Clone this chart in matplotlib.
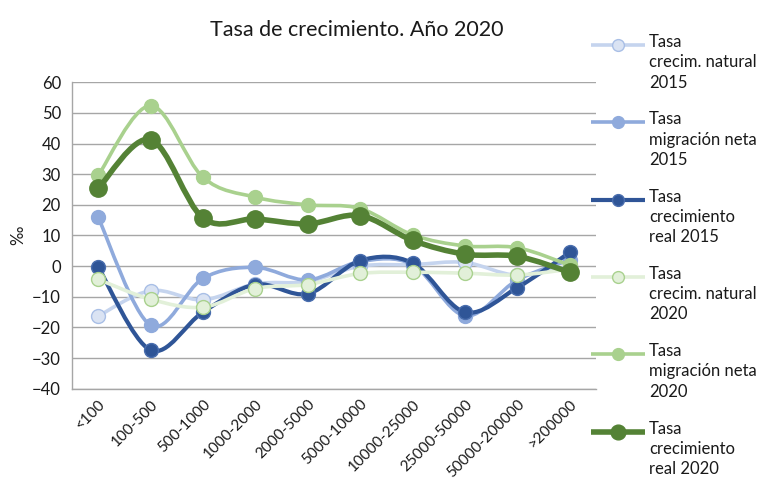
import matplotlib
matplotlib.use("Agg")
import matplotlib.pyplot as plt
import numpy as np
from matplotlib.path import Path
from matplotlib.patches import PathPatch
from matplotlib.lines import Line2D

plt.rcParams['font.family'] = ['Lato', 'DejaVu Sans']

categories = ["<100", "100-500", "500-1000", "1000-2000", "2000-5000", "5000-10000",
              "10000-25000", "25000-50000", "50000-200000", ">200000"]

natural_2015 = [-16.3, -8.0, -11.0, -5.8, -5.0, 0.0, 0.5, 1.2, -3.0, 0.0]
migracion_2015 = [15.9, -19.3, -4.0, -0.4, -4.5, 1.5, 0.5, -16.2, -4.5, 2.0]
real_2015 = [-0.3, -27.4, -15.0, -6.0, -9.0, 1.8, 1.0, -15.0, -7.0, 4.5]
natural_2020 = [-4.3, -10.8, -13.4, -7.3, -6.0, -2.4, -2.0, -2.3, -2.9, -1.0]
migracion_2020 = [29.6, 52.4, 29.0, 22.5, 20.0, 18.8, 10.2, 6.6, 6.0, 0.3]
real_2020 = [25.4, 41.3, 15.7, 15.4, 13.8, 16.5, 8.4, 3.9, 3.2, -2.0]

labels = ["Tasa\ncrecim. natural\n2015", "Tasa\nmigración neta\n2015",
          "Tasa\ncrecimiento\nreal 2015", "Tasa\ncrecim. natural\n2020",
          "Tasa\nmigración neta\n2020", "Tasa\ncrecimiento\nreal 2020"]

series = [natural_2015, migracion_2015, real_2015, natural_2020, migracion_2020, real_2020]
styles = [
    dict(lc="#C5D4EE", mfc="#DAE3F3", mec="#A9BFE6", lw=2.6, ms=10),
    dict(lc="#8FAADC", mfc="#8FAADC", mec="#8FAADC", lw=2.6, ms=10),
    dict(lc="#2F5597", mfc="#2F5597", mec="#4A6EAE", lw=3.0, ms=10),
    dict(lc="#E2F0D9", mfc="#E2F0D9", mec="#A9D18E", lw=2.6, ms=10),
    dict(lc="#A9D18E", mfc="#A9D18E", mec="#A9D18E", lw=2.6, ms=10),
    dict(lc="#548235", mfc="#548235", mec="#548235", lw=4.0, ms=12.5),
]

W, H = 764, 486
fig = plt.figure(figsize=(W / 100, H / 100), dpi=100)
ax = fig.add_axes([72 / W, 1 - 388.7 / H, (596 - 72) / W, (388.7 - 82.3) / H])

x = np.arange(len(categories))


def smooth_path(xs, ys):
    pts = np.column_stack([xs, ys]).astype(float)
    n = len(pts)
    verts = [pts[0]]
    codes = [Path.MOVETO]
    for i in range(n - 1):
        p0 = pts[i - 1] if i > 0 else pts[i]
        p1 = pts[i]
        p2 = pts[i + 1]
        p3 = pts[i + 2] if i + 2 < n else pts[i + 1]
        c1 = p1 + (p2 - p0) / 6.0
        c2 = p2 - (p3 - p1) / 6.0
        verts += [c1, c2, p2]
        codes += [Path.CURVE4] * 3
    return Path(verts, codes)


for k, (vals, st) in enumerate(zip(series, styles)):
    patch = PathPatch(smooth_path(x, vals), fill=False, edgecolor=st["lc"],
                      lw=st["lw"], capstyle="round", joinstyle="round", zorder=3 + 2 * k)
    ax.add_patch(patch)
    ax.plot(x, vals, linestyle="none", marker="o", ms=st["ms"], mfc=st["mfc"],
            mec=st["mec"], mew=1.0, zorder=4 + 2 * k)

ax.set_xlim(-0.5, len(categories) - 0.5)
ax.set_ylim(-40, 60)
ax.set_yticks(np.arange(-40, 61, 10))
ax.set_xticks(x)
ax.set_xticklabels(categories, rotation=45, ha="right", rotation_mode="anchor", fontsize=11,
                   color="#1a1a1a")
ax.tick_params(axis="y", labelsize=12, colors="#1a1a1a", length=0, pad=8)
ax.tick_params(axis="x", length=0, pad=6)
ax.grid(axis="y", color="#A6A6A6", lw=1.0, zorder=0)
for s in ["top", "right"]:
    ax.spines[s].set_visible(False)
for s in ["left", "bottom"]:
    ax.spines[s].set_color("#A6A6A6")
    ax.spines[s].set_linewidth(1.0)
ax.set_axisbelow(True)

ax.set_ylabel("‰", fontsize=12, color="#1a1a1a", labelpad=4)

fig.text(357 / W, 1 - 30 / H, "Tasa de crecimiento. Año 2020", ha="center", va="center",
         fontsize=15.5, color="#1a1a1a")

# legend (manual, handle aligned with first text line)
x0, x1 = 591 / W, 645 / W
ytop = 45
for k, (lab, st) in enumerate(zip(labels, styles)):
    yc = 1 - (ytop + k * 77.3) / H
    fig.add_artist(Line2D([x0, x1], [yc, yc], transform=fig.transFigure, color=st["lc"],
                          lw=st["lw"], solid_capstyle="butt"))
    fig.add_artist(Line2D([(x0 + x1) / 2], [yc], transform=fig.transFigure, marker="o",
                          ms=st["ms"] * 0.85, mfc=st["mfc"], mec=st["mec"], mew=1.0,
                          linestyle="none"))
    fig.text(649 / W, yc + 11 / H, lab, ha="left", va="top", fontsize=12, color="#1a1a1a",
             linespacing=1.33)

fig.savefig("out.png", dpi=100)
